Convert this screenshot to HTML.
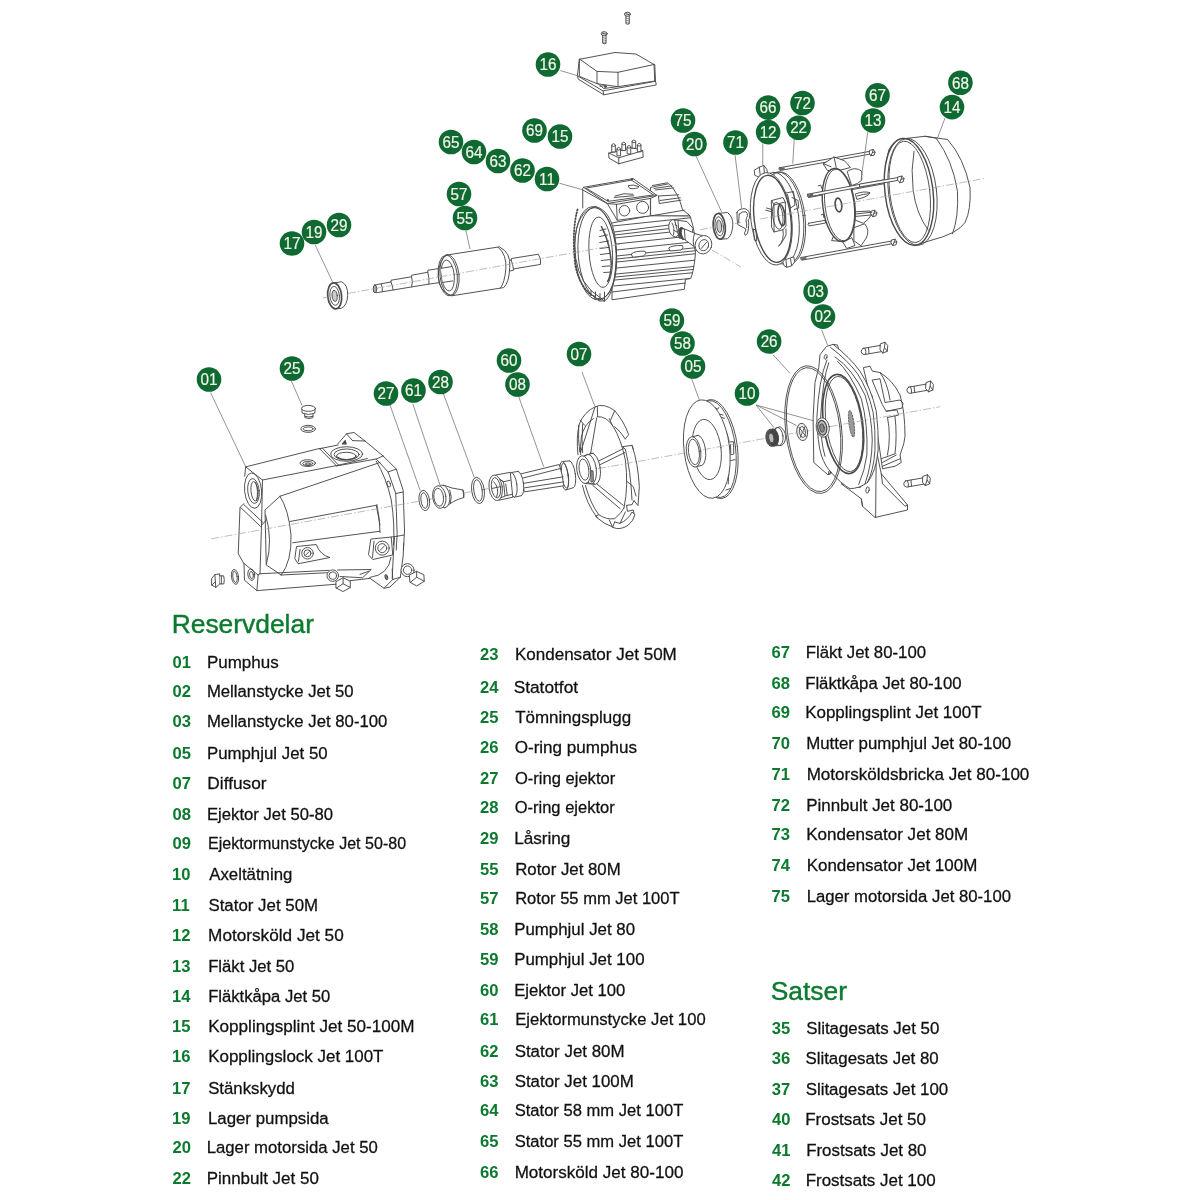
<!DOCTYPE html>
<html lang="sv">
<head>
<meta charset="utf-8">
<title>Reservdelar</title>
<style>
html,body{margin:0;padding:0;background:#fff;}
body{width:1200px;height:1200px;overflow:hidden;font-family:"Liberation Sans",sans-serif;}
svg{display:block;position:absolute;left:0;top:0;}
.n{font-weight:bold;fill:#0b7a2f;font-size:17.3px;}
.t{fill:#111;font-size:17.3px;stroke:#111;stroke-width:0.28px;}
.h{fill:#0b7a2f;font-size:26.4px;stroke:#0b7a2f;stroke-width:0.4px;}
.b{fill:#f6f6ec;font-size:16.4px;text-anchor:middle;stroke:#f6f6ec;stroke-width:0.2px;}
.bc{fill:#0e6a30;}
.ln{fill:none;stroke:#4a4a4a;stroke-width:0.95px;stroke-linejoin:round;stroke-linecap:round;vector-effect:non-scaling-stroke;}
.ln *{vector-effect:non-scaling-stroke;}
.lw{fill:#fff;}
.ld{fill:none;stroke:#777;stroke-width:0.8;}
.ax{fill:none;stroke:#a0a0a0;stroke-width:0.7;stroke-dasharray:8 2 1.5 2;}
</style>
</head>
<body>
<svg width="1200" height="1200" viewBox="0 0 1200 1200" font-family="'Liberation Sans', sans-serif">
<rect width="1200" height="1200" fill="#fff"/>
<g id="diagram">
<!-- 10_housing_a.svg -->
<g transform="translate(230 445) scale(0.125)" class="ln" stroke-width="7">
<!-- top face -->
<path d="M125,175 L715,28 M260,280 L850,165 L1100,108 M125,175 L260,280"/>
<path d="M715,28 L850,165 M737,24 L868,160"/>
<!-- small hole on top -->
<ellipse cx="622" cy="145" rx="62" ry="27"/><ellipse cx="622" cy="148" rx="40" ry="16"/><ellipse cx="624" cy="152" rx="22" ry="8"/>
<!-- port -->
<ellipse cx="185" cy="365" rx="68" ry="142" transform="rotate(-6 185 365)"/>
<ellipse cx="188" cy="368" rx="46" ry="100" transform="rotate(-6 188 368)"/>
<ellipse cx="196" cy="370" rx="28" ry="78" transform="rotate(-6 196 370)"/>
<path d="M205,300 Q232,370 212,445"/>
<!-- port block -->
<path d="M125,175 L118,250 M260,280 L252,640 L240,1030 M110,470 L80,500 L66,870 L112,950 M85,500 L245,652 L290,600 M112,478 L262,618"/>
<path d="M112,950 L116,1082 L215,1165 L225,1040 L130,962 Z M225,1040 L240,1030 M215,1165 L870,1112"/>
<ellipse cx="170" cy="1037" rx="27" ry="46" transform="rotate(-8 170 1037)"/><ellipse cx="172" cy="1040" rx="15" ry="28" transform="rotate(-8 172 1040)"/>
<!-- body -->
<path d="M400,410 L1200,140"/>
<path d="M400,410 Q470,520 488,720 Q495,930 410,1040"/>
<path d="M400,410 L280,520 L290,960 L410,1040"/>
<path d="M285,560 Q345,760 292,950"/>
<path d="M480,612 L1170,482 L1200,640 M502,782 L1200,690"/>
<!-- left lug -->
<path d="M535,812 L690,796 Q720,880 800,900 L545,950 L520,912 Z"/>
<path d="M560,835 L548,930"/>
<circle cx="620" cy="866" r="46"/><circle cx="620" cy="866" r="28"/><path d="M606,880 L634,852"/>
<!-- base -->
<path d="M240,1030 L790,1003 M410,1040 L780,1022 M860,1000 L1130,996 L1060,1062 L880,1052 M1040,1035 L1110,1010"/>
<circle cx="822" cy="1045" r="46" class="lw"/><circle cx="822" cy="1045" r="30"/>
<path class="lw" d="M850,1092 L905,1062 L962,1090 L962,1140 L905,1172 L850,1145 Z"/>
<path d="M905,1062 L905,1110 L850,1145 M905,1110 L962,1140"/>
<!-- o-ring & plug lower-left -->
<ellipse cx="40" cy="1055" rx="28" ry="60" transform="rotate(-8 40 1055)"/><ellipse cx="40" cy="1055" rx="17" ry="46" transform="rotate(-8 40 1055)"/>
</g>
<!-- 11_housing_b.svg -->
<g transform="translate(310 425) scale(0.125)" class="ln" stroke-width="7">
<!-- boss -->
<path d="M75,190 L225,160 M210,328 L530,272 L585,248 M440,128 L585,248"/>
<ellipse cx="293" cy="232" rx="128" ry="58"/><ellipse cx="293" cy="236" rx="100" ry="44"/><ellipse cx="290" cy="248" rx="78" ry="30"/>
<path d="M215,255 Q290,300 370,255"/>
<!-- flange behind boss -->
<path d="M222,152 L292,70 L352,60 L440,128 M292,70 L340,125 M340,125 L440,128"/>
<path d="M258,150 L282,122 L290,150 Z" fill="#333"/>
<!-- flange right -->
<path d="M585,248 L690,352 L745,522 L756,840 L748,1000"/>
<path d="M530,272 L625,376 L686,548 L697,870 L690,1000"/>
<path d="M625,376 L690,352 M686,548 L745,536 M697,890 L752,880"/>
<path d="M530,290 Q610,420 650,600 Q680,800 668,960"/>
<ellipse cx="630" cy="472" rx="13" ry="25" transform="rotate(-15 630 472)"/>
<!-- recess right edge -->
<path d="M535,636 Q560,750 560,860"/>
<!-- right lug -->
<path d="M490,912 L650,896 L662,1040 L502,1076 L470,1040 Z M650,896 L697,890"/>
<path d="M512,930 L500,1060"/>
<circle cx="578" cy="985" r="56"/><circle cx="578" cy="985" r="36"/><path d="M560,1003 L596,967"/>
<!-- bottom of flange -->
</g>
<!-- 12_housing_c.svg -->
<g transform="translate(300 520) scale(0.116667)" class="ln">
<path d="M810,150 L800,300 L790,500 M888,200 L885,300 L860,490"/>
<path d="M780,320 Q760,470 600,492"/>
<path d="M600,500 L720,585 L770,575 L860,490 M720,585 L795,510 L860,490 M795,510 L790,420"/>
<ellipse cx="740" cy="490" rx="11" ry="24" transform="rotate(-15 740 490)" fill="#777"/>
<path d="M430,520 L600,500"/>
<circle class="lw" cx="922" cy="430" r="56"/><circle cx="922" cy="430" r="36"/>
<path class="lw" d="M940,470 L1000,440 L1062,470 L1065,525 L1000,565 L945,535 Z"/>
<path d="M1000,440 L1000,490 L945,535 M1000,490 L1065,525"/>
</g>
<!-- 13_housing_small.svg -->
<g transform="translate(200 390) scale(0.175)" class="ln">
<!-- plug 25 -->
<path class="lw" d="M582,108 L584,132 Q620,148 656,132 L658,108"/>
<ellipse class="lw" cx="620" cy="105" rx="40" ry="17"/>
<path d="M598,140 L600,158 Q622,168 645,158 L646,140 M598,150 Q622,160 646,150"/>
<ellipse cx="618" cy="222" rx="42" ry="20"/><ellipse cx="618" cy="222" rx="28" ry="11"/>
<!-- hex plug lower-left -->
<path class="lw" d="M68,1075 L85,1055 L112,1050 L112,1110 L90,1128 L68,1115 Z"/>
<path d="M85,1055 L88,1095 L68,1115 M88,1095 L90,1128"/>
<path class="lw" d="M112,1062 L135,1062 Q142,1085 136,1108 L112,1108"/>
<path d="M122,1062 L122,1108"/>
</g>
<g class="ld">
<path d="M210.5,392.6 L245.9,467"/>
<path d="M290.5,379 L302,405.5"/>
</g>
<!-- 20_ejector.svg -->
<g transform="translate(400 400) scale(0.15)" class="ln">
<!-- o-ring 27 -->
<ellipse cx="162" cy="670" rx="35" ry="68" transform="rotate(-8 162 670)"/><ellipse cx="162" cy="670" rx="22" ry="52" transform="rotate(-8 162 670)"/>
<!-- nozzle 61 -->
<path class="lw" d="M290,568 Q340,590 420,600 L425,650 Q350,670 300,718 Z"/>
<ellipse class="lw" cx="288" cy="643" rx="44" ry="76" transform="rotate(-8 288 643)"/>
<ellipse class="lw" cx="262" cy="647" rx="44" ry="76" transform="rotate(-8 262 647)"/>
<ellipse cx="258" cy="648" rx="32" ry="60" transform="rotate(-8 258 648)"/>
<path d="M332,600 Q350,640 336,690 M420,600 Q432,625 425,650"/>
<!-- o-ring 28 -->
<ellipse cx="520" cy="603" rx="42" ry="88" transform="rotate(-8 520 603)"/><ellipse cx="520" cy="603" rx="28" ry="72" transform="rotate(-8 520 603)"/>
<!-- ejector 08 -->
<ellipse class="lw" cx="1142" cy="496" rx="27" ry="90" transform="rotate(-8 1142 496)"/>
<path class="lw" d="M1080,410 L1130,406 L1152,586 L1106,600 Z" stroke="none"/>
<path d="M1080,410 L1130,406 M1106,600 L1152,586"/>
<ellipse class="lw" cx="1094" cy="505" rx="27" ry="96" transform="rotate(-8 1094 505)"/>
<ellipse cx="1100" cy="504" rx="22" ry="84" transform="rotate(-8 1100 504)"/>
<path class="lw" d="M800,494 L1062,430 Q1085,500 1092,572 L832,612 Z"/>
<path d="M812,522 L1072,456 M822,556 L1088,512 M828,586 L1090,546"/>
<ellipse class="lw" cx="796" cy="557" rx="27" ry="82" transform="rotate(-8 796 557)"/>
<path class="lw" d="M740,484 L786,476 L808,638 L762,648 Z" stroke="none"/>
<path d="M740,484 L786,476 M762,648 L808,638"/>
<ellipse class="lw" cx="752" cy="565" rx="27" ry="82" transform="rotate(-8 752 565)"/>
<path class="lw" d="M640,500 L735,482 L752,648 L660,668 Z"/>
<path d="M690,545 L735,535 M700,640 L748,628 M705,560 L715,635 M650,520 L690,545 L700,640 L665,655"/>
<ellipse class="lw" cx="638" cy="585" rx="44" ry="86" transform="rotate(-8 638 585)"/>
<ellipse cx="640" cy="585" rx="30" ry="68" transform="rotate(-8 640 585)"/>
<path d="M625,545 Q665,585 645,645 M612,590 L668,578 M668,530 L690,545"/>
</g>
<g class="ld">
<path d="M390,405 L420.25,490.75 M412.75,403.75 L440.2,485.5 M443.5,394 L474.25,477.25 M518.5,396 L543.7,466.75"/>
</g>
<!-- 30_diffuser.svg -->
<g transform="translate(540 380) scale(0.133333)" class="ln">
<!-- outer rim -->
<path d="M415,200 Q330,240 295,330 Q270,430 285,560"/>
<path d="M318,790 Q350,930 430,1035 Q480,1080 540,1100"/>
<path d="M415,200 Q480,170 560,230 Q630,310 665,410 L640,442"/>
<path d="M430,275 Q500,270 550,350 Q610,450 640,600 Q665,790 630,960"/>
<path d="M400,290 Q330,330 310,430 Q300,500 305,560"/>
<path d="M340,790 Q380,930 440,1010 Q500,1050 560,1040 Q610,1000 630,960"/>
<!-- top segment details -->
<path d="M300,300 L335,340 M520,290 L545,345 M560,350 Q600,380 640,442 M430,200 L432,275 M560,230 L530,300"/>
<path d="M290,340 Q285,450 298,540 M320,330 Q310,450 320,545"/>
<!-- right segment -->
<path d="M620,500 L690,490 Q735,620 745,800 L735,942 L705,905 M690,490 L700,520 M640,520 Q680,680 690,900 M650,760 L700,800 L720,870 M620,500 L640,520"/>
<path d="M650,940 L690,935 L705,905 M650,940 L655,985 L700,975 L705,1000"/>
<!-- bottom segment -->
<path d="M520,1050 L545,1105 Q600,1130 660,1090 Q700,1060 712,1010 L690,990 Q660,1050 600,1075 L560,1065 M545,1105 L560,1065 M600,1075 L640,990"/>
<path d="M420,1020 L440,1010 M430,1035 L420,1020"/>
<!-- spokes -->
<path d="M305,540 L412,205 M378,560 L425,285"/>
<path d="M425,615 L625,515 M440,640 L635,545 M385,660 L440,640"/>
<path d="M395,790 L600,965 M420,775 L625,940"/>
<!-- hub -->
<ellipse class="lw" cx="400" cy="665" rx="52" ry="118" transform="rotate(-8 400 665)"/>
<ellipse class="lw" cx="372" cy="668" rx="50" ry="112" transform="rotate(-8 372 668)"/>
<ellipse class="lw" cx="328" cy="672" rx="52" ry="105" transform="rotate(-8 328 672)"/>
<ellipse cx="330" cy="672" rx="36" ry="80" transform="rotate(-8 330 672)"/>
<path d="M330,568 L400,548 M340,776 L410,782"/>
<path d="M385,680 L398,682 L400,760 L385,765 Z" fill="#999"/>
</g>
<g class="ld"><path d="M582,372 L594.7,406"/></g>
<!-- 40_impeller.svg -->
<g transform="translate(660 370) scale(0.15)" class="ln">
<!-- rim back ellipse -->
<ellipse class="lw" cx="372" cy="527" rx="145" ry="332" transform="rotate(-7 372 527)"/>
<ellipse cx="366" cy="527" rx="138" ry="325" transform="rotate(-7 366 527)"/>
<!-- slots -->
<path d="M385,292 L420,300 M395,312 L430,322 M345,238 L385,262 L392,250 M455,480 L490,478 L492,560 L462,568 Z M470,495 L472,555 M462,605 L500,598 M460,640 L455,760 M440,800 L470,790 M445,420 L460,470"/>
<!-- front face -->
<ellipse class="lw" cx="312" cy="527" rx="152" ry="330" transform="rotate(-7 312 527)"/>
<ellipse cx="312" cy="530" rx="95" ry="202" transform="rotate(-7 312 530)"/>
<!-- hub -->
<ellipse class="lw" cx="262" cy="537" rx="42" ry="102" transform="rotate(-7 262 537)"/>
<path class="lw" d="M215,445 L255,436 L270,636 L232,646 Z" stroke="none"/>
<path d="M215,445 L255,436 M232,646 L270,638"/>
<ellipse class="lw" cx="224" cy="546" rx="48" ry="102" transform="rotate(-7 224 546)"/>
<ellipse cx="226" cy="546" rx="36" ry="86" transform="rotate(-7 226 546)"/>
</g>
<g class="ld"><path d="M691.5,378.25 L699.3,400"/></g>
<!-- 41_seal.svg -->
<g transform="translate(660 370) scale(0.15)" class="ln">
<path class="lw" d="M770,388 L800,378 Q835,400 838,445 Q835,490 810,503 L775,505 Z"/>
<ellipse cx="790" cy="443" rx="30" ry="60" transform="rotate(-7 790 443)"/>
<ellipse cx="742" cy="452" rx="36" ry="58" transform="rotate(-7 742 452)" fill="#555"/>
<ellipse cx="758" cy="450" rx="32" ry="58" transform="rotate(-7 758 450)" fill="#444"/>
<ellipse cx="742" cy="453" rx="17" ry="32" transform="rotate(-7 742 453)" fill="#bbb"/>
<ellipse cx="948" cy="413" rx="36" ry="58" transform="rotate(-7 948 413)" fill="#eee"/>
<ellipse cx="950" cy="413" rx="20" ry="36" transform="rotate(-7 950 413)" fill="#fff"/>
<path d="M925,380 L975,445 M935,450 L965,378"/>
</g>
<g class="ld"><path d="M756,405 L774,427.75 M756,405 L796.5,425.5 M756,405 L814.5,421"/></g>
<!-- 50_intermediate.svg -->
<g transform="translate(800 330) scale(0.125)" class="ln">
<!-- collar / back body -->
<path class="lw" d="M510,300 L560,290 L580,330 L640,340 Q740,400 800,520 Q840,650 840,850 L830,910 L800,1000 L810,1060 L760,1090 L660,1110 L600,700 Z"/>
<path d="M580,400 L640,390 L680,580 L800,560 L825,585 L815,625 L690,650 L660,600 Z M690,650 L775,640 L790,680 L700,700 M700,700 Q730,850 700,1000 M760,690 Q778,850 760,990 M650,1030 L760,990 M660,1060 L770,1000 M660,1090 L800,1030 M640,340 Q700,420 720,560 M560,500 Q590,530 580,560"/>
<!-- foot -->
<path class="lw" d="M610,960 L650,1150 L860,1400 L860,1440 L600,1500 L500,1410 L490,1350 L330,1230 L480,1260 Z"/>
<path d="M610,960 L605,1500 M650,1150 L660,1230 L840,1410 L860,1400 M490,1350 L500,1410"/>
<!-- plate -->
<path class="lw" d="M215,130 L265,115 Q400,220 480,330 Q570,470 610,650 Q630,800 625,960 Q610,1130 540,1220 Q480,1265 400,1270 Q330,1230 245,1135 L225,1160 L110,1060 L105,700 L120,420 L150,300 L160,200 Z"/>
<path d="M265,115 L300,120 L308,150 M245,140 Q380,240 460,350 Q545,480 585,660 Q605,800 600,960 Q590,1120 540,1220"/>
<ellipse cx="205" cy="215" rx="11" ry="20" transform="rotate(15 205 215)"/><ellipse cx="540" cy="1280" rx="13" ry="26" transform="rotate(10 540 1280)"/><ellipse cx="237" cy="1142" rx="10" ry="14"/>
<!-- face rings -->
<path d="M215,240 Q150,400 135,700 Q140,900 170,1000 Q200,1090 250,1140"/>
<path d="M280,215 Q420,310 520,520 Q575,700 578,880 Q575,1080 520,1230"/>
<path d="M300,250 Q400,340 490,550 Q545,750 535,1000 Q520,1120 470,1235"/>
<path d="M230,262 Q180,400 165,700 Q165,900 200,1010"/>
<ellipse cx="345" cy="752" rx="156" ry="400" transform="rotate(-8 345 752)" stroke-width="1.7"/>
<ellipse cx="352" cy="752" rx="142" ry="384" transform="rotate(-8 352 752)"/>
<ellipse cx="412" cy="750" rx="20" ry="108" transform="rotate(-8 412 750)" fill="#999" stroke="#555" stroke-dasharray="1.5 1.5"/>
<!-- bushing -->
<ellipse cx="182" cy="780" rx="52" ry="78" transform="rotate(-8 182 780)" fill="#fff"/>
<ellipse cx="178" cy="782" rx="36" ry="60" transform="rotate(-8 178 782)" fill="#bbb" stroke-width="1.3"/><ellipse cx="176" cy="784" rx="18" ry="34" transform="rotate(-8 176 784)" fill="#888"/>
<!-- o-ring 26 -->
<ellipse cx="109" cy="797" rx="224" ry="514" transform="rotate(-7 109 797)"/>
<ellipse cx="109" cy="797" rx="211" ry="499" transform="rotate(-7 109 797)"/>
<!-- bolts -->
<g id="bolt">
<path class="lw" d="M505,147 L650,122 L656,172 L512,197 Q488,190 490,170 Q492,152 505,147 Z"/>
<path d="M520,146 Q532,170 526,194 M548,141 L552,188"/>
<path class="lw" d="M645,110 L680,98 L702,125 L698,170 L662,185 L642,160 Z"/>
<path d="M680,98 L676,140 L662,185 M676,140 L698,170"/>
</g>
<g transform="translate(365 310)">
<path class="lw" d="M505,147 L650,122 L656,172 L512,197 Q488,190 490,170 Q492,152 505,147 Z"/>
<path d="M520,146 Q532,170 526,194 M548,141 L552,188"/>
<path class="lw" d="M645,110 L680,98 L702,125 L698,170 L662,185 L642,160 Z"/>
<path d="M680,98 L676,140 L662,185 M676,140 L698,170"/>
</g>
<g transform="translate(340 1060)">
<path class="lw" d="M505,147 L650,122 L656,172 L512,197 Q488,190 490,170 Q492,152 505,147 Z"/>
<path d="M520,146 Q532,170 526,194 M548,141 L552,188"/>
<path class="lw" d="M645,110 L680,98 L702,125 L698,170 L662,185 L642,160 Z"/>
<path d="M680,98 L676,140 L662,185 M676,140 L698,170"/>
</g>
</g>
<g class="ld"><path d="M773.3,355 L790,373.3 M821.7,330 L827.5,345"/></g>
<!-- 60_rotor.svg -->
<g transform="translate(300 220) scale(0.216667)" class="ln">
<!-- bearing -->
<path class="lw" d="M160,290 L192,285 Q222,300 220,348 Q218,395 190,408 L160,410 Z"/>
<ellipse class="lw" cx="160" cy="350" rx="32" ry="60" transform="rotate(-6 160 350)" stroke-width="1.7"/>
<ellipse cx="160" cy="350" rx="22" ry="44" transform="rotate(-6 160 350)"/>
<ellipse cx="160" cy="350" rx="12" ry="26" transform="rotate(-6 160 350)" fill="#ccc"/>
<!-- shaft left -->
<path class="lw" d="M345,300 L420,286 L420,278 L515,262 L515,255 L590,241 L590,232 L660,221 L670,285 L595,296 L515,309 L430,323 L350,336 Q335,320 345,300 Z"/>
<path d="M420,286 Q428,305 430,323 M515,262 Q523,285 515,309 M590,241 Q598,270 595,296 M375,295 Q382,312 380,331"/>
<ellipse cx="346" cy="318" rx="8" ry="18" fill="#aaa"/>
<!-- shaft right -->
<path class="lw" d="M950,190 L975,185 L975,178 L1100,158 Q1115,180 1110,205 L985,226 L985,232 L955,238 Z"/>
<path d="M975,185 Q983,205 985,226"/>
<!-- rotor body -->
<path class="lw" d="M675,162 L920,124 Q975,150 968,220 Q965,290 940,312 L700,350 Q640,330 638,260 Q640,185 675,162 Z"/>
<ellipse cx="682" cy="256" rx="44" ry="94" transform="rotate(-6 682 256)"/>
<ellipse cx="690" cy="255" rx="44" ry="94" transform="rotate(-6 690 255)"/>
<ellipse cx="682" cy="256" rx="30" ry="72" transform="rotate(-6 682 256)"/>
<path d="M915,126 Q955,160 950,225 Q945,290 925,314"/>
<path class="lw" d="M650,224 L700,216 L708,282 L660,290 Z" stroke="none"/>
<path d="M650,223 L700,215 M660,288 L706,281"/>
</g>
<g class="ld"><path d="M315.2,245 L332.5,281.75 M465.8,229.75 L470,249.25"/></g>
<!-- 70_stator.svg -->
<g transform="translate(555 160) scale(0.15)" class="ln">
<!-- body fins -->
<path class="lw" d="M380,420 L640,370 L900,372 Q945,500 935,640 Q925,740 905,790 L870,795 L862,862 L380,932 L380,880 Z"/>
<path d="M385,440 L905,385 M395,480 L770,432 M400,520 L790,478 M405,560 L920,505 M410,600 L930,545 M412,640 L935,585 M414,680 L935,625 M412,720 L930,668 M408,760 L925,710 M400,800 L915,752 M392,840 L900,790 M380,880 L870,820"/>
<path d="M398,500 L780,455 M412,660 L935,605 M404,780 L920,730"/>
<path class="lw" d="M510,625 Q530,605 600,608 Q615,625 590,640 L520,648 Z M760,585 Q780,568 850,570 Q862,585 840,600 L770,606 Z"/>
<!-- top right fins -->
<path class="lw" d="M640,182 L760,158 Q820,215 850,330 L900,372 L640,372 Z"/>
<path d="M650,170 L750,152 M690,240 L825,232 M690,240 L695,290 L840,268 M700,270 L835,252 M660,190 L780,172 M670,200 L790,186 M640,372 L860,335"/>
<!-- junction box -->
<path class="lw" d="M185,190 L190,182 L520,124 L680,236 L636,256 L636,372 L415,402 L350,292 L185,200 Z"/>
<path d="M190,182 L350,290 L680,236 M210,190 L355,276 L660,232 M520,124 L510,134 L215,186 M510,134 L655,232 M410,296 L415,402 M410,296 L636,256 M350,290 L410,296"/>
<circle cx="463" cy="338" r="35"/><circle cx="584" cy="316" r="40"/>
<path d="M490,170 Q520,160 560,178 Q545,196 500,190 Z M400,240 Q460,215 520,228 M395,250 L525,238"/>
<circle cx="512" cy="130" r="5" fill="#333"/><circle cx="352" cy="268" r="5" fill="#333"/>
<!-- left side of box down to ring -->
<path d="M185,200 L185,320"/>
<!-- front ring -->
<path class="lw" d="M270,310 Q400,340 410,620 Q400,900 330,940 L240,870 Q130,760 132,560 Q140,340 270,310 Z"/>
<ellipse cx="270" cy="622" rx="138" ry="312" transform="rotate(-4 270 622)"/>
<ellipse cx="282" cy="622" rx="128" ry="305" transform="rotate(-4 282 622)"/>
<ellipse cx="305" cy="615" rx="78" ry="235" transform="rotate(-4 305 615)"/>
<path d="M310,445 Q370,560 375,700 Q370,780 350,810" stroke-dasharray="1.2 1.2" stroke-width="1.6"/>
<path d="M300,470 L340,460 M298,510 L350,500 M298,550 L358,540 M300,590 L362,582 M302,630 L365,622 M308,670 L366,664 M316,710 L366,706 M325,750 L362,748"/>
<!-- teeth outer -->
<path d="M150,330 Q110,480 135,700 Q160,830 240,900" stroke-dasharray="1 2" stroke-width="1.8"/>
<path d="M240,870 L240,900 L262,905 L262,925 L290,925 L292,940 L330,940 M330,880 L330,940 M300,890 L300,935 M270,880 L270,915"/>
<!-- shaft -->
<ellipse class="lw" cx="795" cy="455" rx="36" ry="58" transform="rotate(-10 795 455)"/>
<path class="lw" d="M800,400 L880,410 L920,455 L905,540 L830,520 Z"/>
<path d="M780,420 Q800,450 790,500 M820,410 L830,520 M800,430 L815,440 M795,470 L812,480"/>
<ellipse cx="850" cy="490" rx="22" ry="42" transform="rotate(-15 850 490)" fill="#444"/>
<ellipse cx="862" cy="495" rx="18" ry="38" transform="rotate(-15 862 495)" fill="#fff"/>
<path class="lw" d="M865,460 L935,490 L925,575 L870,535 Z"/>
<path class="lw" d="M930,490 L985,505 L990,620 L935,600 Q910,545 930,490 Z"/>
<ellipse class="lw" cx="990" cy="565" rx="55" ry="62" transform="rotate(20 990 565)"/>
<ellipse cx="992" cy="568" rx="32" ry="38" transform="rotate(20 992 568)"/>
<path d="M975,590 L1010,548"/>
<!-- bearing 20 -->
<path class="lw" d="M1095,355 L1150,350 Q1190,380 1185,440 Q1180,500 1150,525 L1100,528 Z"/>
<ellipse class="lw" cx="1095" cy="442" rx="40" ry="86" transform="rotate(-6 1095 442)" stroke-width="1.7"/>
<ellipse cx="1095" cy="442" rx="28" ry="64" transform="rotate(-6 1095 442)"/>
<ellipse cx="1095" cy="442" rx="16" ry="42" transform="rotate(-6 1095 442)" fill="#ccc"/>
</g>
<g class="ld"><path d="M559.5,183.25 L583.5,190 M696,156 L721.5,211.75"/></g>
<!-- 80_cover.svg -->
<g transform="translate(540 0) scale(0.15)" class="ln">
<!-- base plate -->
<path class="lw" d="M250,505 L255,528 L425,632 L775,566 L770,540 L765,430 L265,395 Z"/>
<path d="M250,505 L420,606 L770,542 M420,606 L425,632"/>
<!-- box -->
<path class="lw" d="M265,395 L500,350 L640,360 L760,430 L765,540 L520,578 L380,558 L265,510 Z"/>
<path d="M265,395 L380,476 L520,482 L760,430 M380,476 L380,558 M520,482 L520,578"/>
<path d="M390,560 L425,590 L515,578 M400,575 L440,570" />
<circle cx="436" cy="578" r="6" fill="#555"/>
<!-- screws -->
<g id="scr"><path class="lw" d="M573,100 L573,158 Q584,166 595,158 L595,100 Z"/><path d="M573,120 L595,126 M573,135 L595,141 M573,150 L595,155" stroke-width="0.6"/><ellipse cx="583" cy="95" rx="20" ry="14" fill="#ddd"/><path d="M572,92 L594,98"/></g>
<g transform="translate(-155 130)"><path class="lw" d="M573,100 L573,158 Q584,166 595,158 L595,100 Z"/><path d="M573,120 L595,126 M573,135 L595,141 M573,150 L595,155" stroke-width="0.6"/><ellipse cx="583" cy="95" rx="20" ry="14" fill="#ddd"/><path d="M572,92 L594,98"/></g>
<!-- terminal block -->
<path class="lw" d="M460,1020 L620,985 L685,1005 L688,1048 L525,1092 L462,1055 Z"/>
<path d="M460,1020 L525,1052 L685,1005 M525,1052 L525,1092"/>
<g id="pin"><path class="lw" d="M478,1010 L478,965 Q490,950 502,965 L502,1012 Z"/><path d="M478,972 Q490,982 502,972"/></g>
<g transform="translate(68 -10)"><path class="lw" d="M478,1010 L478,965 Q490,950 502,965 L502,1012 Z"/><path d="M478,972 Q490,982 502,972"/></g><g transform="translate(136 -25)"><path class="lw" d="M478,1010 L478,965 Q490,950 502,965 L502,1012 Z"/><path d="M478,972 Q490,982 502,972"/></g>
<g transform="translate(35 25)"><path class="lw" d="M478,1010 L478,965 Q490,950 502,965 L502,1012 Z"/><path d="M478,972 Q490,982 502,972"/></g><g transform="translate(103 12)"><path class="lw" d="M478,1010 L478,965 Q490,950 502,965 L502,1012 Z"/><path d="M478,972 Q490,982 502,972"/></g><g transform="translate(171 -2)"><path class="lw" d="M478,1010 L478,965 Q490,950 502,965 L502,1012 Z"/><path d="M478,972 Q490,982 502,972"/></g>
</g>
<g class="ld"><path d="M560.25,70.5 L577.5,75.75"/></g>
<!-- 85_shield_fan.svg -->
<g transform="translate(720 130) scale(0.15)" class="ln">
<!-- lock ring 71 -->
<path class="lw" d="M113,550 Q118,535 133,530 Q150,522 168,525 Q185,530 193,545 Q200,570 196,590 L188,600 Q194,620 191,635 Q190,670 183,690 L168,702 L163,685 Q172,675 173,660 L118,630 Q112,590 113,550 Z"/>
<path d="M128,560 Q150,540 173,545 Q186,555 183,572 Q176,590 173,600 Q180,625 178,650 M128,560 L124,620"/>
<!-- pin bolts behind -->
<g id="rod1"><path class="lw" d="M395,252 L1000,142 L1004,160 L400,270 Q388,262 395,252 Z"/><path class="lw" d="M1000,135 L1022,130 L1034,148 L1028,168 L1006,172 L996,155 Z"/><path d="M1022,130 L1016,150 L1006,172 M1016,150 L1034,148" /><path d="M396,254 L430,248 L432,264 L400,270 Z" fill="#666" stroke="none"/></g>
<!-- shield rim (back) -->
<ellipse class="lw" cx="432" cy="585" rx="135" ry="308" transform="rotate(-7 432 585)"/>
<ellipse cx="420" cy="586" rx="135" ry="308" transform="rotate(-7 420 586)"/>
<ellipse cx="390" cy="588" rx="135" ry="308" transform="rotate(-7 390 588)"/>
<!-- lugs -->
<path class="lw" d="M232,300 L228,268 L262,248 L292,236 L312,262 L318,292 L290,300 L255,310 Z"/>
<path d="M262,248 L268,300 M292,236 L296,290"/>
<path class="lw" d="M415,870 L428,905 L445,915 L478,905 L498,880 L492,845 L450,860 Z"/>
<path d="M445,915 L440,870 M478,905 L470,858"/>
<!-- front face -->
<ellipse class="lw" cx="342" cy="592" rx="136" ry="310" transform="rotate(-7 342 592)"/>
<ellipse cx="350" cy="592" rx="122" ry="292" transform="rotate(-7 350 592)" stroke-width="1.4"/>
<!-- hub internals -->
<path d="M345,470 L420,450 L435,480 L440,640 L420,665 L360,680 L345,650 Z M345,470 L360,500 L360,680 M360,500 L435,480"/>
<ellipse cx="385" cy="572" rx="34" ry="90" transform="rotate(-7 385 572)"/>
<ellipse cx="410" cy="568" rx="22" ry="70" transform="rotate(-7 410 568)" stroke-width="1.6"/>
<path d="M310,520 L345,530 M305,535 L345,545 M440,420 L490,410 L500,500 L470,520 M450,430 L470,520 M480,450 L520,470 L525,520 L495,530 M420,665 Q430,740 390,775 Q410,760 440,700 L440,660"/>
<path d="M225,660 L240,670 L245,740 L232,735 Z"/>
<!-- fan blades back -->
<path class="lw" d="M690,225 L760,180 L830,205 L870,250 L790,270 L720,270 Z"/>
<path d="M760,180 L775,250 M690,225 L740,245"/>
<path class="lw" d="M850,275 Q900,240 945,275 L945,335 Q920,360 880,370 Z"/>
<path class="lw" d="M905,425 Q960,405 1000,418 Q990,445 915,462 Z"/>
<path d="M915,440 Q960,425 990,425"/>
<path class="lw" d="M905,545 L1000,540 L1010,565 Q990,600 955,622 L900,600 Z"/>
<path class="lw" d="M895,650 L965,625 Q1000,670 975,720 L940,772 L895,740 Z"/>
<path class="lw" d="M820,750 L845,790 L900,770 L880,720 Z M745,735 L760,700 L800,740 Z"/>
<path d="M655,372 L672,368 L680,392 M675,565 L690,560 L692,582"/>
<!-- rods -->
<g transform="translate(190 180)"><path class="lw" d="M395,252 L1000,142 L1004,160 L400,270 Q388,262 395,252 Z"/><path class="lw" d="M1000,135 L1022,130 L1034,148 L1028,168 L1006,172 L996,155 Z"/><path d="M1022,130 L1016,150 L1006,172 M1016,150 L1034,148" /><path d="M396,254 L430,248 L432,264 L400,270 Z" fill="#666" stroke="none"/></g>
<path class="lw" d="M590,622 L700,602 L704,620 L594,640 Q582,632 590,622 Z"/>
<!-- fan disc -->
<ellipse class="lw" cx="790" cy="500" rx="105" ry="245" transform="rotate(-7 790 500)" stroke-width="1.4"/>
<ellipse cx="800" cy="500" rx="100" ry="240" transform="rotate(-7 800 500)"/>
<ellipse cx="790" cy="500" rx="22" ry="46" transform="rotate(-7 790 500)" stroke-width="1.6"/>
<!-- rod 2 in front of fan -->
<path class="lw" d="M585,428 L1200,312 L1200,330 L590,446 Q578,438 585,428 Z"/><path d="M586,430 L620,424 L622,440 L590,446 Z" fill="#666" stroke="none"/>
<path class="lw" d="M1010,540 L1032,535 L1046,552 L1040,572 L1018,578 L1006,560 Z"/><path d="M1032,535 L1026,555 L1018,578 M1026,555 L1046,552"/>
<path d="M905,560 L1010,548 M905,576 L1012,566"/>
<g transform="translate(145 598)"><path class="lw" d="M395,252 L1000,142 L1004,160 L400,270 Q388,262 395,252 Z"/><path class="lw" d="M1000,135 L1022,130 L1034,148 L1028,168 L1006,172 L996,155 Z"/><path d="M1022,130 L1016,150 L1006,172 M1016,150 L1034,148" /><path d="M396,254 L430,248 L432,264 L400,270 Z" fill="#666" stroke="none"/></g>
</g>
<g class="ld"><path d="M735,154.75 L741.75,208.75 M762.75,143.5 L762.75,165.25 M794.25,139 L792.75,163.75 M867.75,132.25 L861,179.5"/></g>
<!-- 90_fancover.svg -->
<g transform="translate(860 110) scale(0.125)" class="ln">
<path class="lw" d="M330,232 L520,210 L700,236 Q830,380 880,620 Q890,800 840,900 Q780,990 560,1045 L450,1080 Q300,1000 220,760 Q170,520 230,320 Q270,240 330,232 Z"/>
<path d="M610,226 Q740,400 780,650 Q790,860 740,990"/>
<path d="M520,210 Q580,220 610,226"/>
<ellipse class="lw" cx="392" cy="655" rx="192" ry="430" transform="rotate(-7 392 655)" stroke-width="1.4"/>
<ellipse cx="420" cy="655" rx="192" ry="430" transform="rotate(-7 420 655)"/>
<ellipse cx="398" cy="655" rx="160" ry="408" transform="rotate(-7 398 655)"/>
<path d="M432,330 Q405,480 425,640 Q450,830 545,960"/>
<!-- rod 2 end + head -->
<path class="lw" d="M0,592 L318,538 L322,560 L0,615 Z" />
<path class="lw" d="M305,535 L335,528 L352,548 L345,575 L318,582 L302,562 Z"/><path d="M335,528 L328,555 L318,582 M328,555 L352,548"/>
</g>
<g class="ld"><path d="M945,118.1 L937.5,138.1"/></g>
<!-- 98_axes.svg -->
<g class="ax"><path d="M211.4,538.8 L419.0,501.2 M430.0,499.2 L432.0,498.8 M464.0,493.0 L472.0,491.6 M485.0,489.2 L490.0,488.3 M598.0,468.7 L690.0,452.0 M703.0,449.7 L765.0,438.4 M785.0,434.8 L812.0,429.9 M830.0,426.6 L940.0,406.7"/><path d="M322.8,298.0 L328.0,297.1 M348.0,293.4 L373.0,288.9 M373.0,288.9 L620.0,244.3 M700.0,229.8 L715.0,227.1 M735.0,223.5 L741.0,222.4 M760.0,219.0 L986.0,178.2"/><path d="M712,250 L741,267"/></g>
</g>
<g id="badges">
<circle class="bc" cx="548" cy="64.5" r="12.3"/>
<circle class="bc" cx="534.5" cy="130.5" r="12.3"/>
<circle class="bc" cx="560" cy="136.5" r="12.3"/>
<circle class="bc" cx="451" cy="142" r="12.3"/>
<circle class="bc" cx="474" cy="152" r="12.3"/>
<circle class="bc" cx="498" cy="161" r="12.3"/>
<circle class="bc" cx="522.5" cy="170.5" r="12.3"/>
<circle class="bc" cx="547" cy="179" r="12.3"/>
<circle class="bc" cx="459" cy="194" r="12.3"/>
<circle class="bc" cx="465" cy="218" r="12.3"/>
<circle class="bc" cx="292" cy="243.5" r="12.3"/>
<circle class="bc" cx="314" cy="232" r="12.3"/>
<circle class="bc" cx="339" cy="225" r="12.3"/>
<circle class="bc" cx="292" cy="368.5" r="12.3"/>
<circle class="bc" cx="209" cy="379.5" r="12.3"/>
<circle class="bc" cx="386" cy="393.5" r="12.3"/>
<circle class="bc" cx="413.5" cy="390.5" r="12.3"/>
<circle class="bc" cx="440.5" cy="382" r="12.3"/>
<circle class="bc" cx="509" cy="360.5" r="12.3"/>
<circle class="bc" cx="517.5" cy="384.5" r="12.3"/>
<circle class="bc" cx="579" cy="354" r="12.3"/>
<circle class="bc" cx="683" cy="120.5" r="12.3"/>
<circle class="bc" cx="694.5" cy="144" r="12.3"/>
<circle class="bc" cx="735.5" cy="142.5" r="12.3"/>
<circle class="bc" cx="768" cy="107.6" r="12.3"/>
<circle class="bc" cx="768.1" cy="132.1" r="12.3"/>
<circle class="bc" cx="802.5" cy="103" r="12.3"/>
<circle class="bc" cx="798.6" cy="127.7" r="12.3"/>
<circle class="bc" cx="877.5" cy="95.4" r="12.3"/>
<circle class="bc" cx="873" cy="120.5" r="12.3"/>
<circle class="bc" cx="960.4" cy="82.8" r="12.3"/>
<circle class="bc" cx="952" cy="107.1" r="12.3"/>
<circle class="bc" cx="815.6" cy="291.6" r="12.3"/>
<circle class="bc" cx="823" cy="316.6" r="12.3"/>
<circle class="bc" cx="671.9" cy="320.6" r="12.3"/>
<circle class="bc" cx="682.5" cy="343.5" r="12.3"/>
<circle class="bc" cx="693" cy="366.5" r="12.3"/>
<circle class="bc" cx="769.1" cy="341.5" r="12.3"/>
<circle class="bc" cx="747" cy="393.5" r="12.3"/>
</g>
<g id="badgetext" opacity="0.999">
<text class="b" transform="translate(548 70.2) scale(0.93 1)">16</text>
<text class="b" transform="translate(534.5 136.2) scale(0.93 1)">69</text>
<text class="b" transform="translate(560 142.2) scale(0.93 1)">15</text>
<text class="b" transform="translate(451 147.7) scale(0.93 1)">65</text>
<text class="b" transform="translate(474 157.7) scale(0.93 1)">64</text>
<text class="b" transform="translate(498 166.7) scale(0.93 1)">63</text>
<text class="b" transform="translate(522.5 176.2) scale(0.93 1)">62</text>
<text class="b" transform="translate(547 184.7) scale(0.93 1)">11</text>
<text class="b" transform="translate(459 199.7) scale(0.93 1)">57</text>
<text class="b" transform="translate(465 223.7) scale(0.93 1)">55</text>
<text class="b" transform="translate(292 249.2) scale(0.93 1)">17</text>
<text class="b" transform="translate(314 237.7) scale(0.93 1)">19</text>
<text class="b" transform="translate(339 230.7) scale(0.93 1)">29</text>
<text class="b" transform="translate(292 374.2) scale(0.93 1)">25</text>
<text class="b" transform="translate(209 385.2) scale(0.93 1)">01</text>
<text class="b" transform="translate(386 399.2) scale(0.93 1)">27</text>
<text class="b" transform="translate(413.5 396.2) scale(0.93 1)">61</text>
<text class="b" transform="translate(440.5 387.7) scale(0.93 1)">28</text>
<text class="b" transform="translate(509 366.2) scale(0.93 1)">60</text>
<text class="b" transform="translate(517.5 390.2) scale(0.93 1)">08</text>
<text class="b" transform="translate(579 359.7) scale(0.93 1)">07</text>
<text class="b" transform="translate(683 126.2) scale(0.93 1)">75</text>
<text class="b" transform="translate(694.5 149.7) scale(0.93 1)">20</text>
<text class="b" transform="translate(735.5 148.2) scale(0.93 1)">71</text>
<text class="b" transform="translate(768 113.3) scale(0.93 1)">66</text>
<text class="b" transform="translate(768.1 137.8) scale(0.93 1)">12</text>
<text class="b" transform="translate(802.5 108.7) scale(0.93 1)">72</text>
<text class="b" transform="translate(798.6 133.4) scale(0.93 1)">22</text>
<text class="b" transform="translate(877.5 101.1) scale(0.93 1)">67</text>
<text class="b" transform="translate(873 126.2) scale(0.93 1)">13</text>
<text class="b" transform="translate(960.4 88.5) scale(0.93 1)">68</text>
<text class="b" transform="translate(952 112.8) scale(0.93 1)">14</text>
<text class="b" transform="translate(815.6 297.3) scale(0.93 1)">03</text>
<text class="b" transform="translate(823 322.3) scale(0.93 1)">02</text>
<text class="b" transform="translate(671.9 326.3) scale(0.93 1)">59</text>
<text class="b" transform="translate(682.5 349.2) scale(0.93 1)">58</text>
<text class="b" transform="translate(693 372.2) scale(0.93 1)">05</text>
<text class="b" transform="translate(769.1 347.2) scale(0.93 1)">26</text>
<text class="b" transform="translate(747 399.2) scale(0.93 1)">10</text>
</g>
<g id="lists" opacity="0.999">
<text class="h" transform="translate(171.64 633.00) scale(1.0006 1)">Reservdelar</text>
<text class="h" transform="translate(770.68 1000.00) scale(1.0005 1)">Satser</text>
<text class="n" transform="translate(172.44 668.00) scale(0.960 1)">01</text><text class="t" transform="translate(206.89 668.00) scale(0.9834 1)">Pumphus</text>
<text class="n" transform="translate(172.44 697.00) scale(0.960 1)">02</text><text class="t" transform="translate(206.91 697.00) scale(0.9667 1)">Mellanstycke Jet 50</text>
<text class="n" transform="translate(172.44 727.00) scale(0.960 1)">03</text><text class="t" transform="translate(206.91 727.00) scale(0.9684 1)">Mellanstycke Jet 80-100</text>
<text class="n" transform="translate(172.44 759.00) scale(0.960 1)">05</text><text class="t" transform="translate(206.90 759.00) scale(0.9736 1)">Pumphjul Jet 50</text>
<text class="n" transform="translate(172.44 789.00) scale(0.960 1)">07</text><text class="t" transform="translate(207.37 789.00) scale(0.9981 1)">Diffusor</text>
<text class="n" transform="translate(172.44 820.00) scale(0.960 1)">08</text><text class="t" transform="translate(206.91 820.00) scale(0.9653 1)">Ejektor Jet 50-80</text>
<text class="n" transform="translate(172.44 849.00) scale(0.960 1)">09</text><text class="t" transform="translate(207.97 849.00) scale(0.9283 1)">Ejektormunstycke Jet 50-80</text>
<text class="n" transform="translate(172.10 880.00) scale(0.960 1)">10</text><text class="t" transform="translate(209.25 880.00) scale(0.9713 1)">Axeltätning</text>
<text class="n" transform="translate(172.10 911.00) scale(0.960 1)">11</text><text class="t" transform="translate(208.41 911.00) scale(0.9755 1)">Stator Jet 50M</text>
<text class="n" transform="translate(172.10 941.00) scale(0.960 1)">12</text><text class="t" transform="translate(208.12 941.00) scale(0.9937 1)">Motorsköld Jet 50</text>
<text class="n" transform="translate(172.10 972.00) scale(0.960 1)">13</text><text class="t" transform="translate(208.17 972.00) scale(0.9643 1)">Fläkt Jet 50</text>
<text class="n" transform="translate(172.10 1002.00) scale(0.960 1)">14</text><text class="t" transform="translate(208.17 1002.00) scale(0.9627 1)">Fläktkåpa Jet 50</text>
<text class="n" transform="translate(172.10 1032.00) scale(0.960 1)">15</text><text class="t" transform="translate(208.13 1032.00) scale(0.9897 1)">Kopplingsplint Jet 50-100M</text>
<text class="n" transform="translate(172.10 1062.00) scale(0.960 1)">16</text><text class="t" transform="translate(208.14 1062.00) scale(0.9808 1)">Kopplingslock Jet 100T</text>
<text class="n" transform="translate(172.10 1094.00) scale(0.960 1)">17</text><text class="t" transform="translate(208.16 1094.00) scale(0.9701 1)">Stänkskydd</text>
<text class="n" transform="translate(172.10 1124.00) scale(0.960 1)">19</text><text class="t" transform="translate(207.90 1124.00) scale(0.9743 1)">Lager pumpsida</text>
<text class="n" transform="translate(172.60 1153.00) scale(0.960 1)">20</text><text class="t" transform="translate(206.66 1153.00) scale(0.9677 1)">Lager motorsida Jet 50</text>
<text class="n" transform="translate(172.60 1184.00) scale(0.960 1)">22</text><text class="t" transform="translate(206.64 1184.00) scale(0.9804 1)">Pinnbult Jet 50</text>
<text class="n" transform="translate(480.10 660.00) scale(0.960 1)">23</text><text class="t" transform="translate(514.89 660.00) scale(0.9856 1)">Kondensator Jet 50M</text>
<text class="n" transform="translate(480.10 693.00) scale(0.960 1)">24</text><text class="t" transform="translate(513.63 693.00) scale(1.0001 1)">Statotfot</text>
<text class="n" transform="translate(480.10 723.00) scale(0.960 1)">25</text><text class="t" transform="translate(515.16 723.00) scale(0.9805 1)">Tömningsplugg</text>
<text class="n" transform="translate(480.10 753.00) scale(0.960 1)">26</text><text class="t" transform="translate(514.65 753.00) scale(0.9879 1)">O-ring pumphus</text>
<text class="n" transform="translate(480.10 784.00) scale(0.960 1)">27</text><text class="t" transform="translate(514.92 784.00) scale(0.9578 1)">O-ring ejektor</text>
<text class="n" transform="translate(480.10 813.00) scale(0.960 1)">28</text><text class="t" transform="translate(514.67 813.00) scale(0.9553 1)">O-ring ejektor</text>
<text class="n" transform="translate(480.10 844.00) scale(0.960 1)">29</text><text class="t" transform="translate(514.13 844.00) scale(0.9926 1)">Låsring</text>
<text class="n" transform="translate(480.10 875.00) scale(0.960 1)">55</text><text class="t" transform="translate(515.15 875.00) scale(0.9728 1)">Rotor Jet 80M</text>
<text class="n" transform="translate(480.10 904.00) scale(0.960 1)">57</text><text class="t" transform="translate(515.18 904.00) scale(0.9565 1)">Rotor 55 mm Jet 100T</text>
<text class="n" transform="translate(480.10 935.00) scale(0.960 1)">58</text><text class="t" transform="translate(514.15 935.00) scale(0.9757 1)">Pumphjul Jet 80</text>
<text class="n" transform="translate(480.10 965.00) scale(0.960 1)">59</text><text class="t" transform="translate(514.15 965.00) scale(0.9761 1)">Pumphjul Jet 100</text>
<text class="n" transform="translate(479.94 996.00) scale(0.960 1)">60</text><text class="t" transform="translate(514.17 996.00) scale(0.9641 1)">Ejektor Jet 100</text>
<text class="n" transform="translate(479.94 1025.00) scale(0.960 1)">61</text><text class="t" transform="translate(515.17 1025.00) scale(0.9617 1)">Ejektormunstycke Jet 100</text>
<text class="n" transform="translate(479.94 1057.00) scale(0.960 1)">62</text><text class="t" transform="translate(514.65 1057.00) scale(0.9778 1)">Stator Jet 80M</text>
<text class="n" transform="translate(479.94 1087.00) scale(0.960 1)">63</text><text class="t" transform="translate(514.66 1087.00) scale(0.9759 1)">Stator Jet 100M</text>
<text class="n" transform="translate(479.94 1116.00) scale(0.960 1)">64</text><text class="t" transform="translate(514.67 1116.00) scale(0.9586 1)">Stator 58 mm Jet 100T</text>
<text class="n" transform="translate(479.94 1147.00) scale(0.960 1)">65</text><text class="t" transform="translate(514.67 1147.00) scale(0.9586 1)">Stator 55 mm Jet 100T</text>
<text class="n" transform="translate(479.94 1178.00) scale(0.960 1)">66</text><text class="t" transform="translate(514.63 1178.00) scale(0.9870 1)">Motorsköld Jet 80-100</text>
<text class="n" transform="translate(771.44 658.00) scale(0.960 1)">67</text><text class="t" transform="translate(805.66 658.00) scale(0.9716 1)">Fläkt Jet 80-100</text>
<text class="n" transform="translate(771.44 689.00) scale(0.960 1)">68</text><text class="t" transform="translate(805.16 689.00) scale(0.9686 1)">Fläktkåpa Jet 80-100</text>
<text class="n" transform="translate(771.44 718.00) scale(0.960 1)">69</text><text class="t" transform="translate(805.14 718.00) scale(0.9816 1)">Kopplingsplint Jet 100T</text>
<text class="n" transform="translate(771.44 749.00) scale(0.960 1)">70</text><text class="t" transform="translate(806.15 749.00) scale(0.9742 1)">Mutter pumphjul Jet 80-100</text>
<text class="n" transform="translate(771.44 780.00) scale(0.960 1)">71</text><text class="t" transform="translate(806.64 780.00) scale(0.9861 1)">Motorsköldsbricka Jet 80-100</text>
<text class="n" transform="translate(771.44 811.00) scale(0.960 1)">72</text><text class="t" transform="translate(806.14 811.00) scale(0.9810 1)">Pinnbult Jet 80-100</text>
<text class="n" transform="translate(771.44 840.00) scale(0.960 1)">73</text><text class="t" transform="translate(806.13 840.00) scale(0.9871 1)">Kondensator Jet 80M</text>
<text class="n" transform="translate(771.44 871.00) scale(0.960 1)">74</text><text class="t" transform="translate(806.64 871.00) scale(0.9809 1)">Kondensator Jet 100M</text>
<text class="n" transform="translate(771.44 902.00) scale(0.960 1)">75</text><text class="t" transform="translate(806.66 902.00) scale(0.9666 1)">Lager motorsida Jet 80-100</text>
<text class="n" transform="translate(771.77 1034.00) scale(0.960 1)">35</text><text class="t" transform="translate(806.16 1034.00) scale(0.9751 1)">Slitagesats Jet 50</text>
<text class="n" transform="translate(771.77 1064.00) scale(0.960 1)">36</text><text class="t" transform="translate(805.40 1064.00) scale(0.9770 1)">Slitagesats Jet 80</text>
<text class="n" transform="translate(771.77 1095.00) scale(0.960 1)">37</text><text class="t" transform="translate(805.66 1095.00) scale(0.9766 1)">Slitagesats Jet 100</text>
<text class="n" transform="translate(771.93 1125.00) scale(0.960 1)">40</text><text class="t" transform="translate(805.14 1125.00) scale(0.9827 1)">Frostsats Jet 50</text>
<text class="n" transform="translate(771.93 1156.00) scale(0.960 1)">41</text><text class="t" transform="translate(806.15 1156.00) scale(0.9785 1)">Frostsats Jet 80</text>
<text class="n" transform="translate(771.93 1186.00) scale(0.960 1)">42</text><text class="t" transform="translate(805.64 1186.00) scale(0.9800 1)">Frostsats Jet 100</text>
</g>
</svg>
</body>
</html>
